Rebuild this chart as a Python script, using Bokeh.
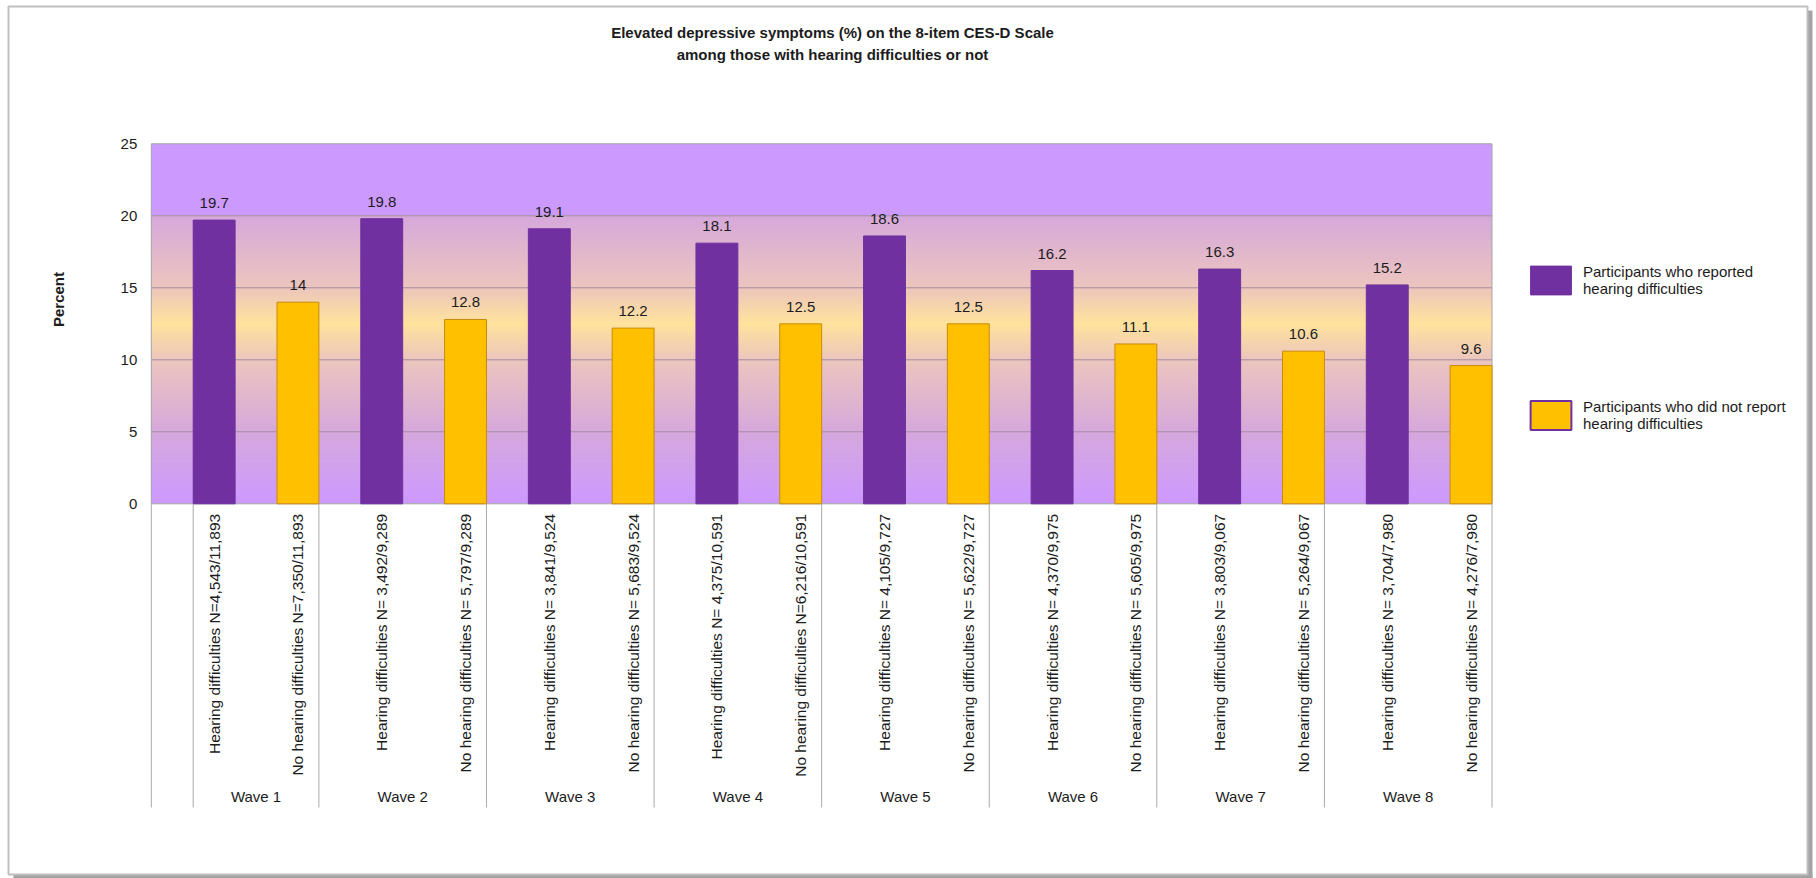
import math
import numpy as np
from bokeh.plotting import figure
from bokeh.models import Range1d, Legend, LegendItem
from bokeh.embed import file_html
from bokeh.resources import INLINE
from bokeh.core.properties import value

# ---------------- data ----------------
waves = ["Wave 1", "Wave 2", "Wave 3", "Wave 4", "Wave 5", "Wave 6", "Wave 7", "Wave 8"]
hearing_pct = [19.7, 19.8, 19.1, 18.1, 18.6, 16.2, 16.3, 15.2]
no_hearing_pct = [14, 12.8, 12.2, 12.5, 12.5, 11.1, 10.6, 9.6]
hearing_labels = [
    "Hearing difficulties N=4,543/11,893",
    "Hearing difficulties N= 3,492/9,289",
    "Hearing difficulties N= 3,841/9,524",
    "Hearing difficulties N= 4,375/10,591",
    "Hearing difficulties N= 4,105/9,727",
    "Hearing difficulties N= 4,370/9,975",
    "Hearing difficulties N= 3,803/9,067",
    "Hearing difficulties N= 3,704/7,980",
]
no_hearing_labels = [
    "No hearing difficulties N=7,350/11,893",
    "No hearing difficulties N= 5,797/9,289",
    "No hearing difficulties N= 5,683/9,524",
    "No hearing difficulties N=6,216/10,591",
    "No hearing difficulties N= 5,622/9,727",
    "No hearing difficulties N= 5,605/9,975",
    "No hearing difficulties N= 5,264/9,067",
    "No hearing difficulties N= 4,276/7,980",
]
y_ticks = [0, 5, 10, 15, 20, 25]
y_label = "Percent"
series_names = ["Participants who reported\nhearing difficulties",
                "Participants who did not report\nhearing difficulties"]
title_text = ("Elevated depressive symptoms (%) on the 8-item CES-D Scale\n"
              "among those with hearing difficulties or not")

# ---------------- style / layout ----------------
PURPLE = "#7030a0"
YELLOW = "#ffc000"
YELLOW_EDGE = "#c98a0c"
TXT = "#1c1c1c"
FONT = "Liberation Sans"
W, H = 1816, 878
PLOT_L, PLOT_R, PLOT_T, PLOT_B = 150.8, 1491.5, 143.3, 503.3

n = len(waves)
n_cat = 2 * n
x_start, x_end = 0, n_cat
y_start, y_end = y_ticks[0], y_ticks[-1]
sx = (PLOT_R - PLOT_L) / (x_end - x_start)
sy = (PLOT_B - PLOT_T) / (y_end - y_start)
px2x = lambda px: x_start + (px - PLOT_L) / sx
px2y = lambda py: y_start + (PLOT_B - py) / sy

p = figure(width=W, height=H, output_backend="svg", toolbar_location=None,
           title=None,
           x_range=Range1d(px2x(0), px2x(W)), y_range=Range1d(px2y(H), px2y(0)),
           x_axis_type=None, y_axis_type=None, min_border=0)
p.border_fill_color = "white"
p.background_fill_color = "white"
p.outline_line_color = None
p.xgrid.visible = False
p.ygrid.visible = False

# ---- outer chart frame with shadow
p.quad(left=px2x(1807), right=px2x(1812), top=px2y(10), bottom=px2y(878),
       fill_color="#a3a3a3", line_color=None)
p.quad(left=px2x(13), right=px2x(1812), top=px2y(874), bottom=px2y(878),
       fill_color="#a3a3a3", line_color=None)
p.quad(left=px2x(8), right=px2x(1807), top=px2y(6), bottom=px2y(874),
       fill_color=None, line_color="#c0c0c0", line_width=2)

# ---- plot area background: flat lavender band on top, gradient below
p.quad(left=x_start, right=x_end, bottom=y_ticks[-2], top=y_end,
       fill_color="#cc99ff", line_color=None)
stops_v = [0, 5, 10, 12.5, 15, 20]
stops_c = ["#cc99ff", "#d6a8dc", "#ecc5bd", "#ffe39c", "#ecc5bd", "#d6a8dc"]
def hex2rgb(h):
    h = h.lstrip("#")
    return [int(h[i:i + 2], 16) for i in (0, 2, 4)]
rgb = np.array([hex2rgb(c) for c in stops_c], dtype=float)
edges = np.linspace(y_start, y_ticks[-2], 121)
step = edges[1] - edges[0]
mids = (edges[:-1] + edges[1:]) / 2
cols = ["#%02x%02x%02x" % tuple(int(round(np.interp(m, stops_v, rgb[:, j]))) for j in range(3))
        for m in mids]
tops = np.minimum(edges[1:] + step, y_ticks[-2])
p.quad(left=x_start, right=x_end, bottom=edges[:-1], top=tops,
       fill_color=cols, line_color=None)

# ---- gridlines + plot-area border
grid_vals = y_ticks[1:-1]
p.segment(x0=[x_start] * len(grid_vals), x1=[x_end] * len(grid_vals),
          y0=grid_vals, y1=grid_vals, line_color="#a08ca0", line_width=1)
p.quad(left=x_start, right=x_end, bottom=y_start, top=y_end,
       fill_color=None, line_color="#a6a6a6", line_width=1)

# ---- bars (each bar sits in the right half of its category slot)
x_h = [2 * k + 0.75 for k in range(n)]
x_n = [2 * k + 1.75 for k in range(n)]
r_h = p.vbar(x=x_h, top=hearing_pct, bottom=0, width=0.5,
             fill_color=PURPLE, line_color=PURPLE)
# legend proxy for the yellow series (purple-edged swatch), hidden under the first yellow bar
r_leg = p.vbar(x=[x_n[0]], top=[no_hearing_pct[0] - 3 / sy], bottom=3 / sy,
               width=0.5 - 6 / sx,
               fill_color=YELLOW, line_color=PURPLE, line_width=2)
r_n = p.vbar(x=x_n, top=no_hearing_pct, bottom=0, width=0.5,
             fill_color=YELLOW, line_color=YELLOW_EDGE)

fmt = lambda v: f"{v:g}"
for xs, ys in ((x_h, hearing_pct), (x_n, no_hearing_pct)):
    p.text(x=xs, y=ys, text=[fmt(v) for v in ys], text_align="center",
           text_baseline="middle", y_offset=-17, text_font=value(FONT),
           text_font_size="15px", text_color=TXT)

# ---- y axis labels
p.text(x=[x_start] * len(y_ticks), y=y_ticks, text=[str(t) for t in y_ticks],
       text_align="right", text_baseline="middle", x_offset=-14,
       text_font=value(FONT), text_font_size="15px", text_color=TXT)
p.text(x=[px2x(58)], y=[px2y(299)], text=[y_label], angle=math.pi / 2,
       text_align="center", text_baseline="middle", text_font=value(FONT),
       text_font_style="bold", text_font_size="15px", text_color=TXT)

# ---- category axis: divider lines, rotated labels, wave labels
dividers = [x_start, x_h[0] - 0.25] + [2 * (k + 1) for k in range(n)]
p.segment(x0=dividers, x1=dividers, y0=[y_start] * len(dividers),
          y1=[px2y(807)] * len(dividers), line_color="#a9a9a9", line_width=1)
x_all, lab_all = [], []
for k in range(n):
    x_all += [x_h[k], x_n[k]]
    lab_all += [hearing_labels[k], no_hearing_labels[k]]
p.text(x=x_all, y=[y_start] * len(x_all), text=lab_all, angle=math.pi / 2,
       text_align="right", text_baseline="middle", y_offset=10,
       text_font=value(FONT), text_font_size="15.5px", text_color=TXT)
wave_centers = [(x_h[0] - 0.25 + 2) / 2] + [2 * k + 1 for k in range(1, n)]
p.text(x=wave_centers, y=[y_start] * n, text=waves, text_align="center",
       text_baseline="middle", y_offset=796 - PLOT_B,
       text_font=value(FONT), text_font_size="15px", text_color=TXT)

# ---- title
p.text(x=[px2x(832)], y=[px2y(43)], text=[title_text], text_align="center",
       text_baseline="middle", text_font=value(FONT), text_font_style="bold",
       text_font_size="15px", text_line_height=1.3, text_color=TXT)

# ---- legend
legend = Legend(items=[LegendItem(label=series_names[0], renderers=[r_h]),
                       LegendItem(label=series_names[1], renderers=[r_leg])],
                location=(1525, H - 433), orientation="vertical",
                glyph_width=51, glyph_height=36, label_standoff=7, spacing=99,
                padding=0, margin=0, border_line_color=None,
                background_fill_alpha=0,
                label_text_font=FONT, label_text_font_size="15px",
                label_text_color=TXT, label_text_line_height=1.1)
p.add_layout(legend)

open("out.html", "w").write(file_html(p, INLINE))
